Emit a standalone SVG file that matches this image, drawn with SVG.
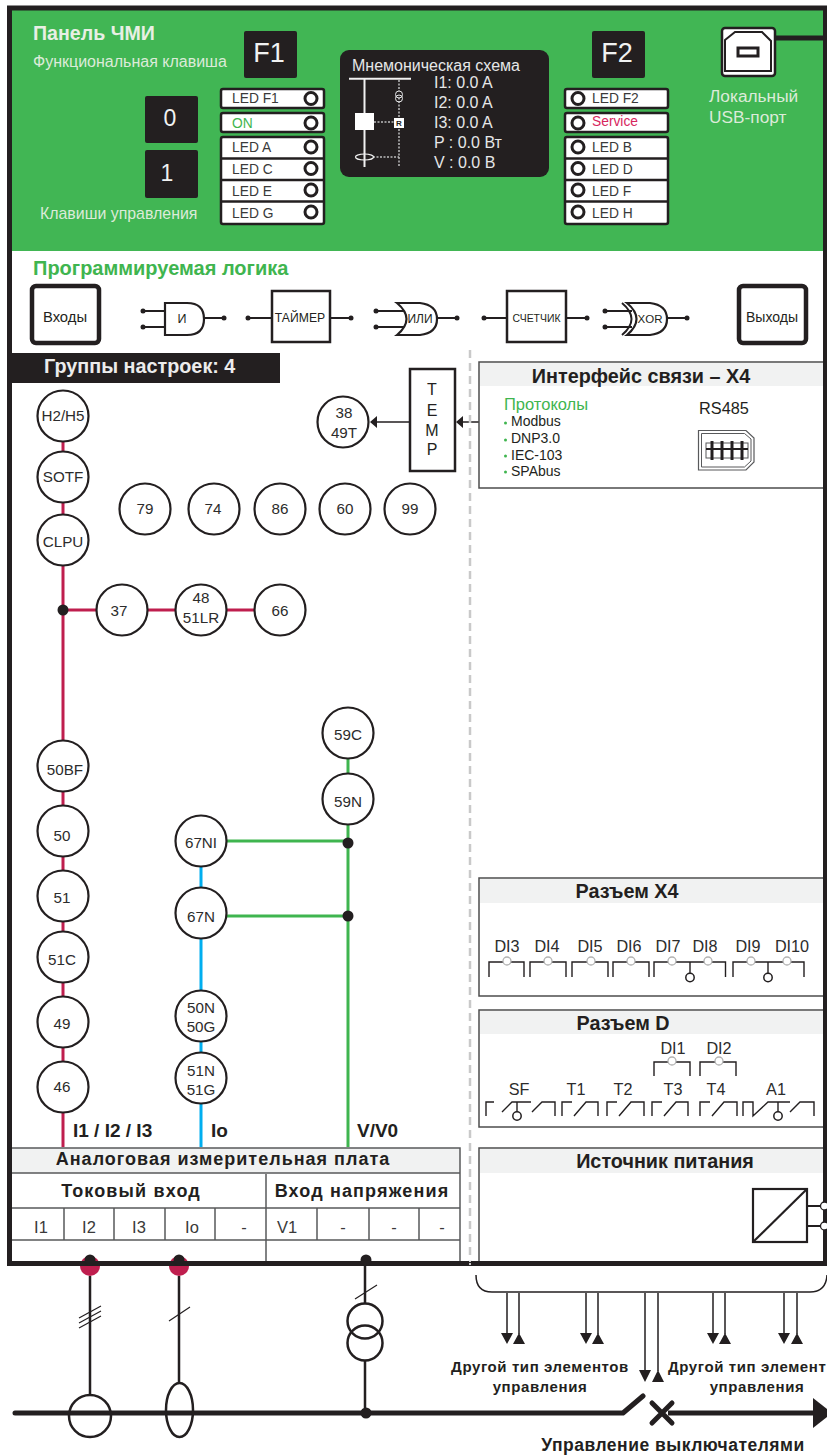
<svg xmlns="http://www.w3.org/2000/svg" width="827" height="1455" viewBox="0 0 827 1455" font-family="'Liberation Sans', Arial, sans-serif">
<style>
text{font-family:"Liberation Sans",Arial,sans-serif;fill:#231f20}
.m{text-anchor:middle}
.b{font-weight:bold}
.key{fill:#231f20;stroke:none}
.keyt{fill:#f1f2f2;font-size:27px;text-anchor:middle}
.led{fill:#fff;stroke:#231f20;stroke-width:2.5}
.ledc{fill:#fff;stroke:#231f20;stroke-width:3}
.ledt{font-size:13.8px;fill:#3a3a3a}
.lt{fill:#dcebd9}
.mn{fill:#e6e7e8;font-size:16px}
.box{fill:#fff;stroke:#231f20;stroke-width:2.5}
.dark{stroke:#231f20;fill:none}
.w{stroke:#231f20;stroke-width:2.2;fill:none}
.dot{fill:#231f20}
.n{fill:#fff;stroke:#231f20;stroke-width:2.2}
.nt{font-size:15.2px;text-anchor:middle;fill:#2c2c2c}
.pan{fill:#fff;stroke:#4d4d4d;stroke-width:1.5}
.hdr{fill:#f1f2f2}
.pt{font-weight:bold;font-size:19.8px;text-anchor:middle}
.c{fill:none;stroke:#231f20;stroke-width:1.4}
.g{fill:#fff;stroke:#b3b3b3;stroke-width:1.3}
.ci{fill:#fff;stroke:#231f20;stroke-width:1.5}
.di{font-size:16.2px;text-anchor:middle;fill:#2c2c2c}
.tb{stroke:#58595b;stroke-width:1.5;fill:none}
.tt{font-size:16.5px;text-anchor:middle;fill:#3a3a3a}
.tp{font-size:18px;font-weight:bold;text-anchor:middle;letter-spacing:1.15px}
.ctl{font-size:15px;font-weight:bold;text-anchor:middle;letter-spacing:.6px}
.red{stroke:#bf1e4e;stroke-width:3;fill:none}
.blue{stroke:#00aeef;stroke-width:3;fill:none}
.green{stroke:#3fb54f;stroke-width:3;fill:none}
.thin{stroke:#231f20;stroke-width:1.5;fill:none}
</style>

<g id="hmi-panel">
<rect x="10" y="9" width="816" height="242" fill="#41b654"/>
<text x="33" y="40" class="b" font-size="19.600" style="fill:#e8efe4">Панель ЧМИ</text>
<text x="33" y="67" font-size="16" class="lt">Функциональная клавиша</text>
<text x="40" y="219" font-size="15.900" class="lt">Клавиши управления</text>
</g>
<g id="key-f1"><rect class="key" x="244" y="31" width="53" height="47" rx="2"/><text class="keyt" x="269" y="62">F1</text></g>
<g id="key-f2"><rect class="key" x="592" y="31" width="53" height="47" rx="2"/><text class="keyt" x="617" y="62">F2</text></g>
<g id="key-0"><rect class="key" x="145" y="96" width="53" height="47" rx="2"/><text class="keyt" x="170" y="126" style="font-size:23px">0</text></g>
<g id="key-1"><rect class="key" x="145" y="150" width="53" height="48" rx="2"/><text class="keyt" x="167" y="181" style="font-size:23px">1</text></g>

<g id="leds-left">
<rect class="led" x="221" y="89" width="103" height="19" rx="2"/>
<rect class="led" x="221" y="113" width="103" height="19" rx="2"/>
<rect class="led" x="221" y="137" width="103" height="87" rx="2"/>
<path d="M221 158.500H324M221 180H324M221 201.500H324" stroke="#231f20" stroke-width="2.500"/>
<circle class="ledc" cx="311" cy="98.500" r="6"/><circle class="ledc" cx="311" cy="123" r="6"/><circle class="ledc" cx="311" cy="147" r="6"/><circle class="ledc" cx="311" cy="168.500" r="6"/><circle class="ledc" cx="311" cy="190" r="6"/><circle class="ledc" cx="311" cy="212" r="6"/>
<text class="ledt" x="232" y="103">LED F1</text>
<text class="ledt" x="232" y="128" style="fill:#3fb54f">ON</text>
<text class="ledt" x="232" y="152">LED A</text>
<text class="ledt" x="232" y="174">LED C</text>
<text class="ledt" x="232" y="196">LED E</text>
<text class="ledt" x="232" y="218">LED G</text>
</g>
<g id="leds-right">
<rect class="led" x="565" y="89" width="103" height="19" rx="2"/>
<rect class="led" x="565" y="113" width="103" height="19" rx="2"/>
<rect class="led" x="565" y="137" width="103" height="87" rx="2"/>
<path d="M565 158.500H668M565 180H668M565 201.500H668" stroke="#231f20" stroke-width="2.500"/>
<circle class="ledc" cx="578" cy="98.500" r="6"/><circle class="ledc" cx="578" cy="123" r="6"/><circle class="ledc" cx="578" cy="147" r="6"/><circle class="ledc" cx="578" cy="168.500" r="6"/><circle class="ledc" cx="578" cy="190" r="6"/><circle class="ledc" cx="578" cy="212" r="6"/>
<text class="ledt" x="592" y="103">LED F2</text>
<text class="ledt" x="592" y="126" style="fill:#d7265e">Service</text>
<text class="ledt" x="592" y="152">LED B</text>
<text class="ledt" x="592" y="174">LED D</text>
<text class="ledt" x="592" y="196">LED F</text>
<text class="ledt" x="592" y="218">LED H</text>
</g>
<g id="mimic">
<rect x="340" y="50" width="209" height="127" rx="9" fill="#231f20"/>
<text class="mn" x="352" y="71">Мнемоническая схема</text>
<path d="M349 78.700H411M364.500 79V167" stroke="#f1f1f1" stroke-width="2" fill="none"/>
<path d="M399 80V167M374 122H395M373 157H399" stroke="#bdbdbd" stroke-width="1.500" stroke-dasharray="2 1.500" fill="none"/>
<rect x="355" y="113" width="19" height="17" fill="#fff"/>
<rect x="394" y="118" width="10" height="10" fill="#fff"/>
<text x="399" y="126" font-size="8" class="b m" style="fill:#231f20">R</text>
<circle cx="399" cy="94.500" r="3.500" fill="#231f20" stroke="#e6e7e8"/><circle cx="399" cy="98.500" r="3.500" fill="none" stroke="#e6e7e8"/>
<ellipse cx="364.500" cy="157" rx="9" ry="3" fill="none" stroke="#f1f1f1" stroke-width="1.200"/>
<text class="mn" x="434" y="88">I1: 0.0 A</text>
<text class="mn" x="434" y="108">I2: 0.0 A</text>
<text class="mn" x="434" y="128">I3: 0.0 A</text>
<text class="mn" x="434" y="148">P : 0.0 Вт</text>
<text class="mn" x="434" y="168">V : 0.0 В</text>
</g>
<g id="usb">
<rect x="722" y="28" width="53" height="48" rx="3" fill="#fff" stroke="#231f20" stroke-width="2.500"/>
<path d="M725 40L735 32H762L771 41V71H725Z" fill="#fff" stroke="#231f20" stroke-width="2"/>
<rect x="738" y="48" width="20" height="8" fill="#fff" stroke="#231f20" stroke-width="3"/>
<path d="M776 38H824" stroke="#231f20" stroke-width="5"/>
<text x="709" y="102" font-size="17.300" class="lt">Локальный</text>
<text x="709" y="123" font-size="17.300" class="lt">USB-порт</text>
</g>

<g id="logic">
<text x="33" y="275" class="b" font-size="20" style="fill:#3fb54f">Программируемая логика</text>
</g>
<g id="inputs"><rect x="32" y="286" width="67" height="57" rx="4" fill="#fff" stroke="#231f20" stroke-width="4.500"/><text x="65" y="322" font-size="14.800" class="m">Входы</text></g>
<g id="outputs"><rect x="739" y="286" width="67" height="57" rx="4" fill="#fff" stroke="#231f20" stroke-width="4.500"/><text x="772" y="322" font-size="14" class="m">Выходы</text></g>
<g id="gate-and">
<path d="M143 311H165M143 327H165M204 318H224" class="w"/>
<circle class="dot" cx="143" cy="311" r="2.500"/><circle class="dot" cx="143" cy="327" r="2.500"/><circle class="dot" cx="224" cy="318" r="2.500"/>
<path d="M165 303H187Q204 303 204 319Q204 335 187 335H165Z" fill="#fff" stroke="#231f20" stroke-width="2.200"/>
<text x="182" y="323" font-size="12.500" class="m">И</text>
</g>
<g id="timer">
<path d="M248 318H272M330 318H351" class="w"/>
<circle class="dot" cx="248" cy="318" r="2.500"/><circle class="dot" cx="351" cy="318" r="2.500"/>
<rect class="box" x="272" y="291" width="58" height="51"/>
<text x="300" y="322" font-size="12.200" class="m">ТАЙМЕР</text>
</g>
<g id="gate-or">
<path d="M376 311H404M376 327H404M437 318H457" class="w"/>
<circle class="dot" cx="376" cy="311" r="2.500"/><circle class="dot" cx="376" cy="327" r="2.500"/><circle class="dot" cx="457" cy="318" r="2.500"/>
<path d="M397 303Q416 319 397 335H420Q437 333 437 319Q437 305 420 303Z" fill="#fff" stroke="#231f20" stroke-width="2.200"/>
<text x="420" y="323" font-size="12" class="m">ИЛИ</text>
</g>
<g id="counter">
<path d="M484 318H507M566 318H587" class="w"/>
<circle class="dot" cx="484" cy="318" r="2.500"/><circle class="dot" cx="587" cy="318" r="2.500"/>
<rect class="box" x="507" y="291" width="59" height="51"/>
<text x="536.500" y="322" font-size="11.500" class="m" textLength="48" lengthAdjust="spacingAndGlyphs">СЧЕТЧИК</text>
</g>
<g id="gate-xor">
<path d="M605 311H632M605 327H632M667 318H687" class="w"/>
<circle class="dot" cx="605" cy="311" r="2.500"/><circle class="dot" cx="605" cy="327" r="2.500"/><circle class="dot" cx="687" cy="318" r="2.500"/>
<path d="M627 303Q646 319 627 335H650Q667 333 667 319Q667 305 650 303Z" fill="#fff" stroke="#231f20" stroke-width="2.200"/>
<path d="M622 303Q641 319 622 335" fill="none" stroke="#231f20" stroke-width="2"/>
<text x="650" y="323" font-size="11.500" class="m">XOR</text>
</g>

<g id="settings-bar">
<rect x="10" y="353" width="270" height="30" fill="#231f20"/>
<text x="44" y="373" class="b" font-size="19.800" style="fill:#ececec">Группы настроек: 4</text>
</g>

<g id="connectors">
<path d="M63 416V1147M63 610H280" class="red"/>
<path d="M201 841V1147" class="blue"/>
<path d="M348 733V1147M201 841H348M201 916H348" class="green"/>
<circle class="dot" cx="63" cy="610" r="5.500"/>
<circle class="dot" cx="348" cy="843" r="5.500"/>
<circle class="dot" cx="348" cy="916" r="5.500"/>
<path d="M479 422H462M410 422H377" class="thin"/>
<path d="M463 416V428L456 422ZM377 416V428L370 422Z" fill="#231f20"/>
<path d="M470 350V1264" stroke="#c9c9c9" stroke-width="2.500" stroke-dasharray="8 5" fill="none"/>
</g>

<g id="temp"><rect class="box" x="410" y="369" width="45" height="102"/>
<text x="432" y="395" font-size="16" class="m">T</text><text x="432" y="416" font-size="16" class="m">E</text><text x="432" y="436" font-size="16" class="m">M</text><text x="432" y="455" font-size="16" class="m">P</text></g>
<g id="n-h2h5"><circle class="n" cx="63" cy="416" r="25.500"/><text class="nt" x="63" y="421">H2/H5</text></g>
<g id="n-sotf"><circle class="n" cx="63" cy="477" r="25.500"/><text class="nt" x="63" y="482">SOTF</text></g>
<g id="n-clpu"><circle class="n" cx="63" cy="540" r="25.500"/><text class="nt" x="63" y="547">CLPU</text></g>
<g id="n-79"><circle class="n" cx="145" cy="509" r="25.500"/><text class="nt" x="145" y="514">79</text></g>
<g id="n-74"><circle class="n" cx="214" cy="509" r="25.500"/><text class="nt" x="213" y="514">74</text></g>
<g id="n-86"><circle class="n" cx="280" cy="509" r="25.500"/><text class="nt" x="280" y="514">86</text></g>
<g id="n-60"><circle class="n" cx="345" cy="509" r="25.500"/><text class="nt" x="345" y="514">60</text></g>
<g id="n-99"><circle class="n" cx="410" cy="509" r="25.500"/><text class="nt" x="410" y="514">99</text></g>
<g id="n-3849t"><circle class="n" cx="343" cy="422" r="25.500"/><text class="nt" x="344" y="418">38</text><text class="nt" x="344" y="438">49T</text></g>
<g id="n-37"><circle class="n" cx="122" cy="610" r="25.500"/><text class="nt" x="119" y="616">37</text></g>
<g id="n-4851lr"><circle class="n" cx="201" cy="610" r="25.500"/><text class="nt" x="201" y="603">48</text><text class="nt" x="201" y="623">51LR</text></g>
<g id="n-66"><circle class="n" cx="280" cy="610" r="25.500"/><text class="nt" x="280" y="616">66</text></g>
<g id="n-50bf"><circle class="n" cx="63" cy="766" r="25.500"/><text class="nt" x="65" y="775">50BF</text></g>
<g id="n-50"><circle class="n" cx="63" cy="831" r="25.500"/><text class="nt" x="62" y="841">50</text></g>
<g id="n-51"><circle class="n" cx="63" cy="896" r="25.500"/><text class="nt" x="62" y="903">51</text></g>
<g id="n-51c"><circle class="n" cx="63" cy="957" r="25.500"/><text class="nt" x="62" y="965">51C</text></g>
<g id="n-49"><circle class="n" cx="63" cy="1022" r="25.500"/><text class="nt" x="62" y="1029">49</text></g>
<g id="n-46"><circle class="n" cx="63" cy="1087" r="25.500"/><text class="nt" x="62" y="1092">46</text></g>
<g id="n-67ni"><circle class="n" cx="201" cy="841" r="25.500"/><text class="nt" x="201" y="848">67NI</text></g>
<g id="n-67n"><circle class="n" cx="201" cy="913" r="25.500"/><text class="nt" x="201" y="922">67N</text></g>
<g id="n-50n50g"><circle class="n" cx="201" cy="1016" r="25.500"/><text class="nt" x="201" y="1013">50N</text><text class="nt" x="201" y="1032">50G</text></g>
<g id="n-51n51g"><circle class="n" cx="201" cy="1078" r="25.500"/><text class="nt" x="201" y="1076">51N</text><text class="nt" x="201" y="1095">51G</text></g>
<g id="n-59c"><circle class="n" cx="348" cy="733" r="25.500"/><text class="nt" x="348" y="740">59C</text></g>
<g id="n-59n"><circle class="n" cx="348" cy="799" r="25.500"/><text class="nt" x="348" y="807">59N</text></g>
<g id="bus-labels">
<text x="73" y="1137" class="b" font-size="19">I1 / I2 / I3</text>
<text x="211" y="1137" class="b" font-size="19">Io</text>
<text x="357" y="1137" class="b" font-size="19">V/V0</text>
</g>

<g id="panel-comm">
<rect class="pan" x="479" y="362" width="350" height="126"/>
<rect class="hdr" x="480" y="363" width="345" height="23"/>
<text class="pt" x="641" y="383">Интерфейс связи – X4</text>
<text x="504" y="410" font-size="16.500" style="fill:#3fb54f">Протоколы</text>
<g font-size="14"><text x="511" y="426">Modbus</text><text x="511" y="443">DNP3.0</text><text x="511" y="460">IEC-103</text><text x="511" y="476">SPAbus</text></g>
<g fill="#3fb54f"><circle cx="505.500" cy="423" r="1.500"/><circle cx="505.500" cy="440" r="1.500"/><circle cx="505.500" cy="456" r="1.500"/><circle cx="505.500" cy="472" r="1.500"/></g>
<text x="724" y="414" font-size="16.300" class="m">RS485</text>
<path d="M698.500 430.500H746L754 438V462L746 470H698.500Z" fill="#fff" stroke="#58595b" stroke-width="1.200"/>
<path d="M701.500 433.500H744.500L751 439V461L744.500 467H701.500Z" fill="none" stroke="#58595b" stroke-width="1"/>
<rect x="706" y="443" width="42" height="15" fill="none" stroke="#58595b"/>
<path d="M712 441V460M722 441V460M732 441V460M742 441V460" stroke="#231f20" stroke-width="3"/>
<path d="M706 449H748" stroke="#231f20" stroke-width="2"/>
</g>

<g id="panel-x4">
<rect class="pan" x="479" y="878" width="350" height="118"/>
<rect class="hdr" x="480" y="879" width="345" height="24"/>
<text class="pt" x="627" y="898">Разъем X4</text>
<text class="di" x="507" y="952">DI3</text><text class="di" x="547" y="952">DI4</text><text class="di" x="590" y="952">DI5</text><text class="di" x="629" y="952">DI6</text><text class="di" x="668" y="952">DI7</text><text class="di" x="705" y="952">DI8</text><text class="di" x="748" y="952">DI9</text><text class="di" x="792" y="952">DI10</text>
<path class="c" d="M489 977V962H524V977M530 977V962H566V977M572 977V962H608V977M613 977V962H649V977M654 977V962H725.500V977M733 977V962H804V977M690 962V974M768 962V974"/>
<circle class="g" cx="507" cy="961" r="4"/><circle class="g" cx="548" cy="961" r="4"/><circle class="g" cx="591" cy="961" r="4"/><circle class="g" cx="631" cy="961" r="4"/><circle class="g" cx="672" cy="961" r="4"/><circle class="g" cx="708" cy="961" r="4"/><circle class="g" cx="751" cy="961" r="4"/><circle class="g" cx="787" cy="961" r="4"/>
<circle class="ci" cx="690" cy="977.500" r="4.200"/><circle class="ci" cx="768" cy="977.500" r="4.200"/>
</g>

<g id="panel-d">
<rect class="pan" x="479" y="1010" width="350" height="117"/>
<rect class="hdr" x="480" y="1011" width="345" height="23"/>
<text class="pt" x="623" y="1030">Разъем D</text>
<text class="di" x="673" y="1054">DI1</text><text class="di" x="719" y="1054">DI2</text>
<text class="di" x="519" y="1095">SF</text><text class="di" x="576" y="1095">T1</text><text class="di" x="623" y="1095">T2</text><text class="di" x="673" y="1095">T3</text><text class="di" x="716" y="1095">T4</text><text class="di" x="776" y="1095">A1</text>
<path class="c" d="M654 1076V1062H690V1076M700 1076V1062H736V1076"/>
<circle class="g" cx="672" cy="1061" r="4"/><circle class="g" cx="719" cy="1061" r="4"/>
<path class="c" d="M486 1116V1102H494M502 1112L512 1102H531M517 1102V1112M532 1112L542 1102H555V1116"/>
<path class="c" d="M562 1116V1102H572M574 1116L586 1102H598V1116M607 1116V1102H617M619 1116L631 1102H644V1116M652 1116V1102H662M664 1116L676 1102H688V1116M700 1116V1102H710M712 1116L724 1102H737V1116"/>
<path class="c" d="M743 1116V1102H753V1116L768 1102H790M778 1102V1112M790 1112L800 1102H814V1116"/>
<circle class="ci" cx="517" cy="1116" r="4.200"/><circle class="ci" cx="778" cy="1116" r="4.200"/>
</g>

<g id="panel-power">
<rect class="pan" x="479" y="1148" width="350" height="116"/>
<rect class="hdr" x="480" y="1149" width="345" height="24"/>
<text class="pt" x="665" y="1168">Источник питания</text>
<rect x="753" y="1189" width="54" height="53" fill="#fff" stroke="#231f20" stroke-width="2.200"/>
<path d="M753 1242L807 1189" stroke="#231f20" stroke-width="2.200"/>
<path d="M807 1206H822M807 1226H822" stroke="#231f20" stroke-width="1.800"/>
</g>

<g id="analog-board">
<rect x="12" y="1148" width="448" height="25" fill="#f1f2f2"/>
<path class="tb" d="M12 1148H460V1262M12 1173H460M12 1208H460M12 1240H460M266 1174V1262M64 1208V1240M114 1208V1240M165 1208V1240M215 1208V1240M317 1208V1240M369 1208V1240M419 1208V1240"/>
<text x="223" y="1165" class="b m" font-size="18" letter-spacing="1">Аналоговая измерительная плата</text>
<text class="tp" x="131" y="1197">Токовый вход</text>
<text class="tp" x="362" y="1197">Вход напряжения</text>
<text class="tt" x="41" y="1233">I1</text><text class="tt" x="89" y="1233">I2</text><text class="tt" x="139" y="1233">I3</text><text class="tt" x="192" y="1233">Io</text><text class="tt" x="244" y="1233">-</text><text class="tt" x="287" y="1233">V1</text><text class="tt" x="343" y="1233">-</text><text class="tt" x="394" y="1233">-</text><text class="tt" x="442" y="1233">-</text>
</g>

<g id="terminals-red"><circle cx="90" cy="1266" r="10" fill="#bf1e4e"/><circle cx="179" cy="1266" r="10" fill="#bf1e4e"/></g>
<g id="frame"><rect x="9.500" y="8" width="816" height="1255.500" fill="none" stroke="#231f20" stroke-width="5"/>
<path d="M470 1260V1266" stroke="#fff" stroke-width="1.500" stroke-dasharray="2 1"/></g>
<g id="terminals">
<circle class="dot" cx="90" cy="1260" r="5.500"/><circle class="dot" cx="179" cy="1260" r="5.500"/><circle class="dot" cx="366" cy="1260" r="5.500"/>
<circle cx="824.500" cy="1206" r="4" fill="#fff" stroke="#231f20" stroke-width="1.300"/><circle cx="824.500" cy="1226" r="4" fill="#fff" stroke="#231f20" stroke-width="1.300"/>
</g>

<g id="primary-circuit">
<path d="M90 1276V1396M179 1276V1383M365 1262V1304M365 1361V1408" stroke="#231f20" stroke-width="2.500" fill="none"/>
<path d="M79 1318L101 1306M79 1323L101 1311M79 1328L101 1316M169 1321L190 1307M355 1299L377 1285" stroke="#231f20" stroke-width="1.200" fill="none"/>
<path d="M15 1413H623L643 1396" stroke="#231f20" stroke-width="5" stroke-linecap="round" stroke-linejoin="round" fill="none"/>
<circle cx="90" cy="1416" r="21" fill="none" stroke="#231f20" stroke-width="2.500"/>
<ellipse cx="179.500" cy="1410" rx="13.500" ry="27" fill="none" stroke="#231f20" stroke-width="2.500"/>
<circle cx="365" cy="1321" r="17.500" fill="none" stroke="#231f20" stroke-width="2.500"/>
<circle cx="365" cy="1343" r="17.500" fill="none" stroke="#231f20" stroke-width="2.500"/>
<circle class="dot" cx="366" cy="1413" r="5.500"/>
<path d="M652 1403L672 1423M672 1403L652 1423" stroke="#231f20" stroke-width="5" stroke-linecap="round"/>
<path d="M668 1413H815" stroke="#231f20" stroke-width="5"/>
<path d="M813 1398L832 1413L813 1428Z" fill="#231f20"/>
</g>

<g id="control-connectors">
<path d="M476 1275Q476 1292 492 1292H810Q826 1292 827 1275" class="thin"/>
<path class="thin" d="M507 1293V1334M519 1293V1334M586 1293V1334M598 1293V1334M645 1293V1371M658 1293V1371M713 1293V1334M725 1293V1334M784 1293V1334M797 1293V1334"/>
<path fill="#231f20" d="M501 1333H513L507 1344ZM513 1344H525L519 1333ZM580 1333H592L586 1344ZM592 1344H604L598 1333ZM639 1370H651L645 1382ZM652 1382H664L658 1370ZM707 1333H719L713 1344ZM719 1344H731L725 1333ZM778 1333H790L784 1344ZM791 1344H803L797 1333Z"/>
</g>
<g id="control-labels">
<text class="ctl" x="540" y="1372">Другой тип элементов</text>
<text class="ctl" x="540" y="1392">управления</text>
<text class="ctl" x="668" y="1372" style="text-anchor:start">Другой тип элемент</text>
<text class="ctl" x="757" y="1392">управления</text>
<text x="673" y="1451" class="b m" font-size="17.500" letter-spacing=".5">Управление выключателями</text>
</g>
</svg>
